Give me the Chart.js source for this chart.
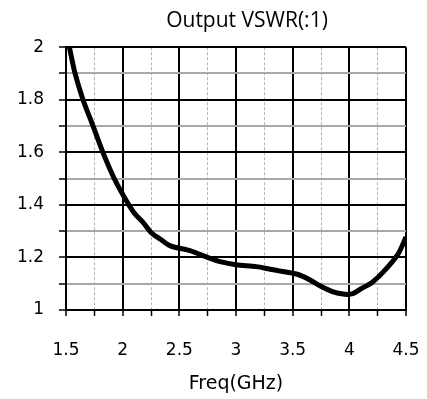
<!DOCTYPE html>
<html>
<head>
<meta charset="utf-8">
<script src="https://cdn.jsdelivr.net/npm/chart.js@4"></script>
<style>
  html, body { margin: 0; padding: 0; background: #fff; }
  #wrap { width: 427px; height: 399px; }
</style>
</head>
<body>
<div id="wrap"><canvas id="myChart" width="427" height="399"></canvas></div>
<script>
// frequency (GHz) and output VSWR
const freq = [1.53, 1.58, 1.65, 1.73, 1.83, 1.92, 2.0, 2.1, 2.18, 2.25, 2.33, 2.42, 2.6, 2.75, 2.86, 3.0, 3.18, 3.3, 3.38, 3.54, 3.65, 3.74, 3.85, 3.96, 4.03, 4.1, 4.2, 4.3, 4.43, 4.5];
const vswr = [2.0, 1.9, 1.8, 1.71, 1.595, 1.505, 1.44, 1.37, 1.333, 1.295, 1.27, 1.244, 1.225, 1.2, 1.184, 1.172, 1.165, 1.155, 1.149, 1.136, 1.115, 1.092, 1.07, 1.06, 1.062, 1.08, 1.105, 1.145, 1.213, 1.278];

const chartTitle = 'Output VSWR(:1)';
const xTitle = 'Freq(GHz)';

// the title sits a little right of the plot centre in the original
const titleShift = {
  id: 'titleShift',
  afterLayout(chart) {
    const t = chart.titleBlock
    if (t) { t.left += 11; t.right += 11 }
  }
}

function main() {
  var points = []
  for (let i = 0; i < freq.length; i++) {
    points.push({x: freq[i], y: vswr[i]})
  }

  const tickFont = "'DejaVu Sans', sans-serif"
  const isMajorX = v => Math.abs(v * 2 - Math.round(v * 2)) < 1e-6
  const isMajorY = v => Math.round(v * 10) % 2 === 0

  new Chart(document.getElementById('myChart'), {
    type: 'line',
    data: {
      datasets: [{
        data: points,
        borderColor: '#000',
        borderWidth: 5,
        pointRadius: 0,
        tension: 0.3,
        fill: false
      }]
    },
    plugins: [titleShift],
    options: {
      responsive: false,
      animation: false,
      layout: {padding: {left: 0, right: 21, top: 0, bottom: 0}},
      plugins: {
        legend: {display: false},
        tooltip: {enabled: false},
        title: {
          display: true,
          fullSize: false,
          text: chartTitle,
          color: '#000',
          font: {family: "'Open Sans', sans-serif", size: 21, weight: 'normal'},
          padding: {top: 8, bottom: 14}
        }
      },
      scales: {
        x: {
          type: 'linear',
          min: 1.5,
          max: 4.5,
          afterFit: s => { s.height = 89; s.paddingLeft = 0; s.paddingRight = 0 },
          ticks: {
            stepSize: 0.25,
            autoSkip: false,
            maxRotation: 0,
            padding: 24,
            color: '#000',
            font: {family: tickFont, size: 17},
            callback: v => isMajorX(v) ? String(v) : ''
          },
          grid: {
            color: c => isMajorX(c.tick.value) ? '#000' : '#b4b4b4',
            lineWidth: c => isMajorX(c.tick.value) ? 2 : 1,
            tickColor: '#000',
            tickWidth: 1.5,
            tickLength: 6
          },
          border: {
            color: '#000',
            width: 2,
            dash: c => (c.tick && !isMajorX(c.tick.value)) ? [3, 2] : []
          },
          title: {
            display: true,
            text: xTitle,
            color: '#000',
            font: {family: "'DejaVu Sans', sans-serif", size: 19},
            padding: {top: 4}
          }
        },
        y: {
          min: 1,
          max: 2,
          afterFit: s => { s.width = 66 },
          ticks: {
            stepSize: 0.1,
            autoSkip: false,
            padding: 15,
            color: '#000',
            font: {family: tickFont, size: 17},
            callback: v => isMajorY(v) ? String(Math.round(v * 10) / 10) : ''
          },
          grid: {
            color: c => isMajorY(c.tick.value) ? '#000' : '#a8a8a8',
            lineWidth: 2,
            tickColor: '#000',
            tickWidth: 1.5,
            tickLength: 7
          },
          border: {color: '#000', width: 2}
        }
      }
    }
  });
}

document.addEventListener("DOMContentLoaded", function(){
  main();
});
</script>
</body>
</html>
